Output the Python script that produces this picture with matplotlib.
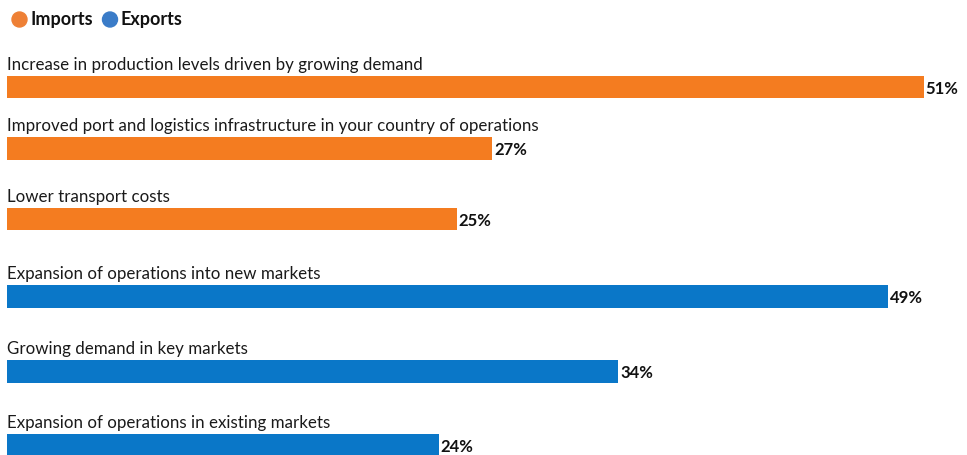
import matplotlib.pyplot as plt
from matplotlib.patches import Ellipse

# data
labels = [
    'Increase in production levels driven by growing demand',
    'Improved port and logistics infrastructure in your country of operations',
    'Lower transport costs',
    'Expansion of operations into new markets',
    'Growing demand in key markets',
    'Expansion of operations in existing markets',
]
values = [51, 27, 25, 49, 34, 24]
groups = ['Imports', 'Imports', 'Imports', 'Exports', 'Exports', 'Exports']

colores = {'Imports': '#F47C20', 'Exports': '#0A77C8'}
legend_colores = {'Imports': '#EE8035', 'Exports': '#3A7CC8'}

plt.rcParams['font.family'] = ['Lato', 'DejaVu Sans']

W, H = 967, 455
fig = plt.figure(figsize=(W / 100, H / 100), dpi=100)
ax = fig.add_axes([0, 0, 1, 1])

# escala: 1% = px_por_pct pixels, barras começam em x=7px
px_por_pct = 17.98
x0 = 7
ax.set_xlim(-x0 / px_por_pct, (W - x0) / px_por_pct)
ax.set_ylim(H, 0)
ax.axis('off')

# centros das barras em pixels
centros = [87, 148.5, 219, 296.5, 371.5, 445]
altura = 22.5

for lab, val, g, yc in zip(labels, values, groups, centros):
    ax.barh(yc, val, height=altura, left=0, color=colores[g])
    ax.text(0, yc - altura / 2 - 6, lab, fontsize=12.2, color='#1a1a1a',
            ha='left', va='baseline')
    ax.text(val + 0.1, yc + 6.5, f'{val}%', fontsize=12, fontweight='bold',
            color='#111111', ha='left', va='baseline')

# legenda
fig.patches.append(Ellipse((19.5 / W, 1 - 19.5 / H), 15 / W, 15 / H,
                           transform=fig.transFigure, color=legend_colores['Imports']))
fig.text(30 / W, 1 - 19.5 / H, 'Imports', fontsize=13, fontweight='bold',
         ha='left', va='center', color='#111111')
fig.patches.append(Ellipse((110 / W, 1 - 19.5 / H), 15 / W, 15 / H,
                           transform=fig.transFigure, color=legend_colores['Exports']))
fig.text(120.5 / W, 1 - 19.5 / H, 'Exports', fontsize=13, fontweight='bold',
         ha='left', va='center', color='#111111')

plt.savefig('out.png', dpi=100)
plt.close()
